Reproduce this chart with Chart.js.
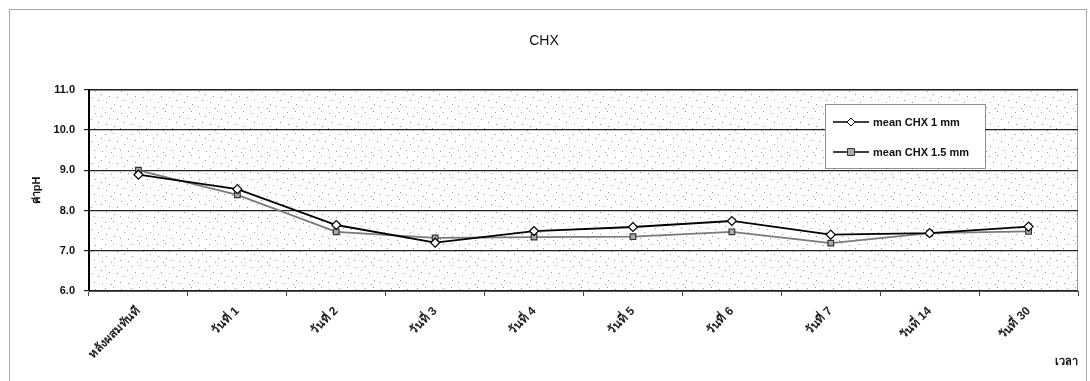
<!DOCTYPE html>
<html>
<head>
<meta charset="utf-8">
<script src="https://cdn.jsdelivr.net/npm/chart.js@4.4.1/dist/chart.umd.min.js"></script>
<style>
  html, body { margin: 0; padding: 0; background: #fff; }
  #wrap { width: 1090px; height: 381px; position: relative; }
</style>
</head>
<body>
<div id="wrap"><canvas id="grafica" width="1090" height="381"></canvas></div>
<script>
var ctx = document.getElementById("grafica").getContext('2d');

// data
var labels = ["หลังผสมทันที", "วันที่ 1", "วันที่ 2", "วันที่ 3", "วันที่ 4", "วันที่ 5", "วันที่ 6", "วันที่ 7", "วันที่ 14", "วันที่ 30"];
var chx1 = [8.89, 8.53, 7.64, 7.20, 7.49, 7.59, 7.74, 7.40, 7.44, 7.60];
var chx15 = [9.00, 8.39, 7.47, 7.32, 7.34, 7.35, 7.47, 7.19, 7.44, 7.48];
var seriesNames = ["mean CHX 1 mm", "mean CHX 1.5 mm"];

var fontFam = "'Liberation Sans', Arial, sans-serif";

// dotted fill like the scanned plot area
var pc = document.createElement('canvas');
pc.width = 26; pc.height = 22;
var p = pc.getContext('2d');
p.fillStyle = '#fff';
p.fillRect(0, 0, 26, 22);
p.fillStyle = '#9a9a9a';
[[1,2],[9,1],[17,3],[23,6],[5,8],[13,9],[20,12],[2,14],[10,16],[16,18],[24,19],[7,20]].forEach(function (d) {
    p.fillRect(d[0], d[1], 1, 1);
});

var backPlugin = {
    id: 'back',
    beforeDraw: function (chart) {
        var c = chart.ctx, a = chart.chartArea;
        c.save();
        c.fillStyle = c.createPattern(pc, 'repeat');
        c.fillRect(a.left, a.top, a.right - a.left, a.bottom - a.top);
        c.strokeStyle = '#999';
        c.lineWidth = 1;
        c.strokeRect(a.left + 0.5, a.top + 0.5, a.right - a.left - 1, a.bottom - a.top);
        // outer frame
        c.setLineDash([1, 1]);
        c.strokeStyle = '#555';
        c.strokeRect(9.5, 9.5, 1077, 400);
        c.restore();
    }
};

var legendPlugin = {
    id: 'boxLegend',
    afterDraw: function (chart) {
        var c = chart.ctx;
        var x = 825, y = 104, w = 160, h = 64;
        c.save();
        c.fillStyle = '#fff';
        c.fillRect(x, y, w, h);
        c.setLineDash([1, 1]);
        c.strokeStyle = '#222';
        c.strokeRect(x + 0.5, y + 0.5, w, h);
        c.setLineDash([]);
        chart.data.datasets.forEach(function (ds, i) {
            var ly = y + 18 + i * 30;
            c.strokeStyle = '#000';
            c.lineWidth = 1.5;
            c.beginPath();
            c.moveTo(x + 8, ly);
            c.lineTo(x + 44, ly);
            c.stroke();
            c.fillStyle = ds.pointBackgroundColor;
            c.strokeStyle = ds.pointBorderColor;
            c.lineWidth = 1;
            c.beginPath();
            if (ds.pointStyle === 'rectRot') {
                c.moveTo(x + 26, ly - 4); c.lineTo(x + 30, ly); c.lineTo(x + 26, ly + 4); c.lineTo(x + 22, ly);
                c.closePath();
            } else {
                c.rect(x + 22.5, ly - 3.5, 7, 7);
            }
            c.fill();
            c.stroke();
            c.fillStyle = '#111';
            c.font = "bold 11px " + fontFam;
            c.textBaseline = 'middle';
            c.fillText(ds.label, x + 48, ly + 1);
        });
        c.restore();
    }
};

var myChart = new Chart(ctx, {
    type: 'line',
    data: {
        labels: labels,
        datasets: [{
            label: seriesNames[0],
            data: chx1,
            borderColor: '#000',
            borderWidth: 1.8,
            pointStyle: 'rectRot',
            pointRadius: 4.5,
            pointBackgroundColor: '#fff',
            pointBorderColor: '#000',
            pointBorderWidth: 1.2,
            tension: 0
        }, {
            label: seriesNames[1],
            data: chx15,
            borderColor: '#7a7a7a',
            borderWidth: 1.8,
            pointStyle: 'rect',
            pointRadius: 4,
            pointBackgroundColor: '#aaa',
            pointBorderColor: '#333',
            pointBorderWidth: 1.2,
            tension: 0
        }]
    },
    options: {
        responsive: false,
        animation: false,
        layout: { padding: { left: 10, right: 12, top: 0, bottom: 0 } },
        plugins: {
            legend: { display: false },
            tooltip: { enabled: false },
            title: {
                display: true,
                text: 'CHX',
                color: '#111',
                font: { family: fontFam, size: 14, weight: 'normal' },
                padding: { top: 33, bottom: 40 }
            }
        },
        scales: {
            x: {
                offset: true,
                grid: { offset: true, drawOnChartArea: false, drawTicks: true, tickLength: 5, color: '#444' },
                border: { color: '#555', width: 1 },
                ticks: {
                    color: '#222',
                    font: { family: fontFam, size: 12, weight: 'bold' },
                    minRotation: 45,
                    maxRotation: 45,
                    padding: 8
                },
                title: {
                    display: true,
                    text: 'เวลา',
                    align: 'end',
                    color: '#111',
                    font: { family: fontFam, size: 11, weight: 'bold' },
                    padding: { top: 0, bottom: 12 }
                },
                afterFit: function (s) { s.height = 90; }
            },
            y: {
                min: 6,
                max: 11,
                ticks: {
                    stepSize: 1,
                    color: '#111',
                    padding: 9,
                    font: { family: fontFam, size: 11, weight: 'bold' },
                    callback: function (v) { return v.toFixed(1); }
                },
                grid: { color: '#222', lineWidth: 1.2, tickLength: 5 },
                border: { color: '#000', width: 2 },
                title: {
                    display: true,
                    text: 'ค่าpH',
                    color: '#111',
                    font: { family: fontFam, size: 11, weight: 'bold' },
                    padding: { top: 20, bottom: 0 }
                },
                afterFit: function (s) { s.width = 79; }
            }
        }
    },
    plugins: [backPlugin, legendPlugin]
});
</script>
</body>
</html>
